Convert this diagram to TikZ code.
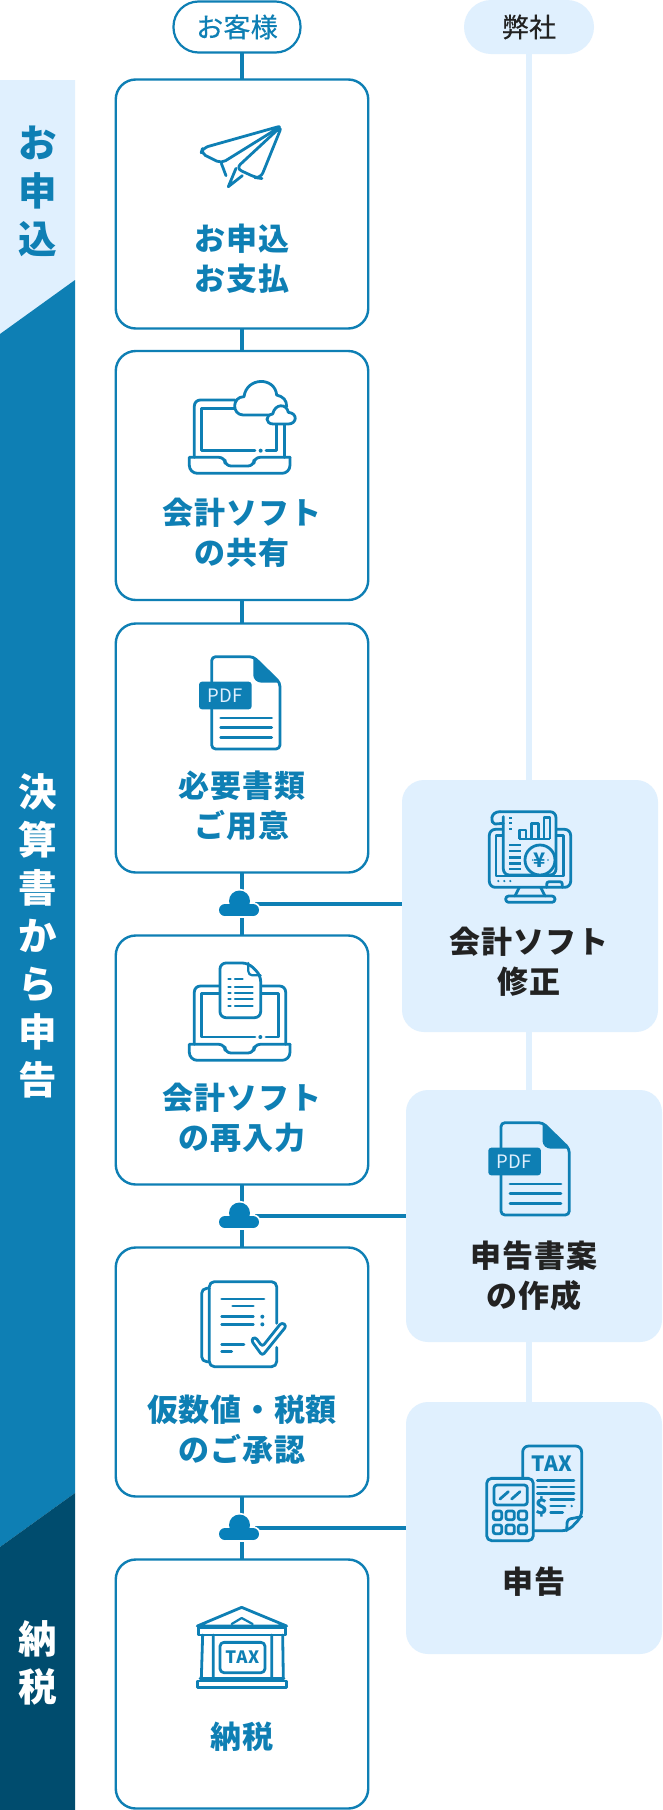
\documentclass[tikz,border=0pt]{standalone}
\usepackage{fontspec}
\setmainfont{Noto Sans CJK JP}
\definecolor{mainblue}{HTML}{0E7FB4}
\definecolor{lightblue}{HTML}{E0F0FE}
\definecolor{darkblue}{HTML}{004C6E}
\definecolor{inkdark}{HTML}{222222}
\definecolor{cloudblue}{HTML}{0880BA}
\tikzset{
 flowbox/.style={draw=mainblue,fill=white,line width=2.4pt,rounded corners=20pt,minimum width=252.5pt,minimum height=249pt,inner sep=0pt,outer sep=0pt},
 sidebox/.style={fill=lightblue,rounded corners=22pt,minimum width=256pt,minimum height=252pt,inner sep=0pt,outer sep=0pt},
 link/.style={draw=mainblue,line width=4pt},
 lightlink/.style={draw=lightblue,line width=6pt},
 boxlabel/.style={font=\fontsize{31}{40}\selectfont\bfseries\addfontfeature{LetterSpace=2.5},text=mainblue,align=center,inner sep=0pt},
 sidelabel/.style={boxlabel,text=inkdark},
 bandlabel/.style={font=\fontsize{38.5}{48}\selectfont\bfseries,align=center,inner sep=0pt},
 pilllabel/.style={font=\fontsize{27}{30}\selectfont\addfontfeature{LetterSpace=1,FakeBold=0.4},inner sep=0pt},
 ic/.style={draw=mainblue,line width=2.8pt,line cap=round,line join=round},
 icthin/.style={ic,line width=2.2pt},
 cloudhalo/.style={draw=white,line width=3.5pt,fill=white},
 cloudfill/.style={fill=cloudblue},
}
\newcommand\cloudic[3]{%
 \begin{scope}[shift={(#2,#3)}]
  \foreach \st in {cloudhalo,cloudfill}{
   \path[\st] (-14,6) circle[radius=6];
   \path[\st] (14,6) circle[radius=6];
   \path[\st] (0.5,-3) circle[radius=10.5];
   \path[\st] (-14,0) rectangle (14,12);
  }
 \end{scope}}
\newcommand\pdfic[3]{%
 \begin{scope}[shift={(#1,#2)},scale=1/3]
  \draw[ic,rounded corners=4pt] (335,995) -- (335,920) -- (460,920) -- (540,998) -- (540,1197) -- (335,1197) -- (335,1078);
  \fill[mainblue,rounded corners=3pt] (460,920) -- (540,998) -- (475,998) -- (460,985) -- cycle;
  \fill[mainblue,rounded corners=3pt] (297,995) rectangle (455,1078);
  \node[inner sep=0pt,text=lightblue,font=\fontsize{18.5}{18}\selectfont] (#3) at (375,1037) {PDF};
  \foreach \yy in {1104,1133,1163} \draw[ic] (362,\yy) -- (515,\yy);
 \end{scope}}
\newcommand\lapbase{%
  \draw[ic,rounded corners=6pt] (268,322) -- (375,322) -- (375,348) -- (462,348) -- (462,322) -- (570,322);
  \draw[ic,rounded corners=8pt] (268,322) -- (268,370) -- (570,370) -- (570,322);}
\begin{document}
\begin{tikzpicture}[x=1pt,y=-1pt]
\useasboundingbox (0,0) rectangle (662,1810);
\fill[white] (0,0) rectangle (662,1810);
% band
\fill[lightblue] (0,80) -- (75,80) -- (75,280) -- (0,334) -- cycle;
\fill[mainblue] (0,334) -- (75,280) -- (75,1493) -- (0,1547) -- cycle;
\fill[darkblue] (0,1547) -- (75,1493) -- (75,1810) -- (0,1810) -- cycle;
\node[bandlabel,text=mainblue] (t1) at (37.5,191.5) {お\\申\\込};
\node[bandlabel,text=white] (t2) at (37.5,935.5) {決\\算\\書\\か\\ら\\申\\告};
\node[bandlabel,text=white] (t3) at (37.5,1662.5) {納\\税};
% nodes
\node[draw=mainblue,fill=white,line width=2.2pt,rounded corners=25pt,minimum width=127pt,minimum height=51pt,inner sep=0pt,outer sep=0pt,pilllabel,text=mainblue] (p1) at (237,27) {お客様};
\node[fill=lightblue,rounded corners=27pt,minimum width=130pt,minimum height=54pt,inner sep=0pt,outer sep=0pt,pilllabel,text=inkdark] (p2) at (529,27) {弊社};
% connectors
\coordinate (b1n) at (242,79.5);
\coordinate (c1) at (239,904);
\coordinate (c2) at (239,1216);
\coordinate (c3) at (239,1528);
\coordinate (r1w) at (402,904);
\coordinate (r2w) at (406,1216);
\coordinate (r3w) at (406,1528);
\draw[lightlink] (p2.south) -- (529,1402);
\draw[link] (b1n |- p1.south) -- (242,1559);
\draw[link] (c1) -- (r1w);
\draw[link] (c2) -- (r2w);
\draw[link] (c3) -- (r3w);
\node[flowbox] (b1) at (242,204) {};
\node[flowbox] (b2) at (242,475.5) {};
\node[flowbox] (b3) at (242,748) {};
\node[flowbox] (b4) at (242,1060) {};
\node[flowbox] (b5) at (242,1372) {};
\node[flowbox] (b6) at (242,1684) {};
\node[sidebox] (r1) at (530,906) {};
\node[sidebox] (r2) at (534,1216) {};
\node[sidebox] (r3) at (534,1528) {};
\cloudic{c1}{239}{904}
\cloudic{c2}{239}{1216}
\cloudic{c3}{239}{1528}
% labels
\node[boxlabel] (l1) at (242,259) {お申込\\お支払};
\node[boxlabel] (l2) at (242,532.5) {会計ソフト\\の共有};
\node[boxlabel] (l3) at (242,805.5) {必要書類\\ご用意};
\node[boxlabel] (l4) at (242,1117.5) {会計ソフト\\の再入力};
\node[boxlabel] (l5) at (242,1429.5) {仮数値・税額\\のご承認};
\node[boxlabel] (l6) at (242,1737) {納税};
\node[sidelabel] (s1) at (529,961.5) {会計ソフト\\修正};
\node[sidelabel] (s2) at (534,1275.5) {申告書案\\の作成};
\node[sidelabel] (s3) at (534,1582) {申告};
% plane icon
\begin{scope}[shift={(0,0)},scale=1/3]
 \draw[ic,rounded corners=5pt] (846,377) -- (608,444) -- (603,460) -- (664,490) -- cycle;
 \draw[ic] (664,490) -- (678,527);
 \draw[ic,rounded corners=6pt] (846,377) -- (782,535) -- (768,533) -- (708,505) -- cycle;
 \draw[ic] (708,505) -- (685,560) -- (727,527);
\end{scope}
% laptop + clouds icon
\begin{scope}[shift={(100,350)},scale=1/3]
 \draw[ic,rounded corners=6pt] (405,150) -- (283,150) -- (283,322);
 \draw[ic] (553,225) -- (553,322);
 \draw[ic] (405,175) -- (305,175) -- (305,302) -- (465,302);
 \draw[ic] (498,302) -- (530,302) -- (530,225);
 \fill[mainblue] (482,302) circle[radius=6];
 \lapbase
 \draw[ic,fill=white] (510,195) -- (430,195) .. controls (395,195) and (395,140) .. (432,140) .. controls (440,80) and (525,80) .. (530,135) .. controls (550,140) and (560,150) .. (560,170);
 \draw[ic,fill=white] (520,222) .. controls (495,222) and (495,195) .. (518,192) .. controls (525,160) and (560,160) .. (565,187) .. controls (595,190) and (590,222) .. (565,222) -- cycle;
\end{scope}
\pdfic{100}{350}{pdf1}
% laptop + doc icon
\begin{scope}[shift={(100,937)},scale=1/3]
 \draw[ic,rounded corners=6pt] (360,147) -- (283,147) -- (283,322);
 \draw[ic,rounded corners=6pt] (482,147) -- (557,147) -- (557,322);
 \draw[ic] (358,170) -- (305,170) -- (305,300) -- (465,300);
 \draw[ic] (498,300) -- (535,300) -- (535,170) -- (482,170);
 \fill[mainblue] (481,300) circle[radius=6];
 \lapbase
 \draw[ic,fill=white,rounded corners=6pt] (360,78) -- (445,78) -- (482,115) -- (482,242) -- (360,242) -- cycle;
 \draw[icthin,rounded corners=4pt] (445,78) -- (445,115) -- (482,115);
 \draw[icthin] (385,127) -- (392,127) (405,127) -- (428,127);
 \foreach \yy in {149,168,187,206} \draw[icthin] (385,\yy) -- (392,\yy) (405,\yy) -- (458,\yy);
\end{scope}
% check doc icon
\begin{scope}[shift={(180,1260)},scale=1/3]
 \draw[ic,rounded corners=5pt] (290,190) -- (290,65) -- (88,65) -- (88,320) -- (290,320) -- (290,262);
 \draw[ic,rounded corners=5pt] (88,85) -- (65,85) -- (65,305) -- (88,305);
 \draw[ic] (125,117) -- (252,117) (158,138) -- (220,138) (125,170) -- (220,170) (125,193) -- (220,193) (125,254) -- (192,254) (125,275) -- (155,275);
 \fill[mainblue] (247,170) circle[radius=6] (247,193) circle[radius=6];
 \draw[ic,rounded corners=3pt] (213,240) -- (225,230) -- (247,260) -- (305,187) -- (320,197) -- (247,287) -- cycle;
\end{scope}
% bank icon
\begin{scope}[shift={(0,1400)},scale=1/3]
 \draw[ic] (592,678) -- (725,622) -- (860,678) -- cycle;
 \draw[icthin] (695,672) -- (725,654) -- (758,672);
 \draw[ic] (595,682) rectangle (857,705);
 \draw[ic] (608,705) -- (604,835) (640,705) -- (640,835) (815,705) -- (815,835) (848,705) -- (850,835);
 \draw[ic] (600,835) -- (852,835);
 \draw[ic] (592,843) rectangle (860,862);
 \draw[ic,rounded corners=4pt] (660,727) rectangle (795,818);
 \node[inner sep=0pt,text=mainblue,font=\fontsize{17}{17}\selectfont\bfseries\addfontfeature{LetterSpace=4}] (taxa) at (727,772) {TAX};
\end{scope}
% monitor icon
\begin{scope}[shift={(400,770)},scale=1/3]
 \draw[ic,rounded corners=6pt] (305,178) -- (268,178) -- (268,352) -- (512,352) -- (512,178) -- (470,178);
 \draw[ic] (310,197) -- (288,197) -- (288,318) -- (490,318) -- (490,197) -- (470,197);
 \draw[ic,fill=lightblue,rounded corners=6pt] (300,125) -- (468,125) -- (468,315) -- (310,315) -- (310,140);
 \draw[ic] (310,160) -- (285,162) .. controls (270,160) and (270,125) .. (300,125);
 \foreach \yy in {143,160,178} \fill[mainblue] (327,\yy-3) rectangle (336,\yy+3);
 \draw[ic,line cap=butt] (358,207) -- (358,180) -- (378,180) -- (378,207) (395,207) -- (395,160) -- (415,160) -- (415,207) (432,207) -- (432,143) -- (450,143) -- (450,207) (358,207) -- (450,207);
 \foreach \yy in {225,243,262,280,297} \draw[ic,line cap=butt] (328,\yy) -- (362,\yy);
 \draw[ic,fill=lightblue] (420,270) circle[radius=45];
 \node[inner sep=0pt,text=mainblue,font=\fontsize{20}{20}\selectfont\bfseries] (yen) at (420,270) {¥};
 \fill[mainblue] (398,270) circle[radius=2.5] (444,270) circle[radius=2.5];
 \foreach \xx in {295,313,331} \fill[mainblue] (\xx,333) circle[radius=3.5];
 \draw[ic,rounded corners=2.5pt] (440,352) -- (440,335) -- (487,335) -- (487,352);
 \draw[ic] (358,352) -- (345,378) (422,352) -- (435,378);
 \draw[ic,rounded corners=3pt] (317,378) rectangle (465,397);
\end{scope}
\pdfic{389.3}{816}{pdf2}
% tax / calculator icon
\begin{scope}[shift={(400,1400)},scale=1/3]
 \draw[ic,rounded corners=6pt] (368,235) -- (368,138) -- (545,138) -- (545,350) -- (505,392) -- (400,392);
 \draw[ic,rounded corners=3pt] (545,350) -- (502,358) -- (500,392);
 \node[inner sep=0pt,text=mainblue,font=\fontsize{21}{21}\selectfont\bfseries\addfontfeature{LetterSpace=2}] (taxb) at (456,190) {TAX};
 \node[inner sep=0pt,text=mainblue,font=\fontsize{21}{21}\selectfont\bfseries] (dol) at (426,322) {\$};
 \draw[ic] (412,241) -- (522,241) (412,261) -- (440,261) (452,261) -- (522,261) (412,280) -- (522,280) (452,299) -- (522,299) (452,318) -- (495,318) (452,338) -- (488,338);
 \fill[mainblue] (515,318) circle[radius=4];
 \draw[ic,rounded corners=5pt] (260,235) rectangle (400,422);
 \draw[ic,rounded corners=3pt] (282,255) rectangle (382,315);
 \draw[ic] (300,297) -- (325,275) (335,297) -- (360,275);
 \foreach \xx in {280,318,355} \foreach \yy in {333,375} \draw[ic,rounded corners=2pt] (\xx,\yy) rectangle +(25,26);
\end{scope}
\end{tikzpicture}
\end{document}
